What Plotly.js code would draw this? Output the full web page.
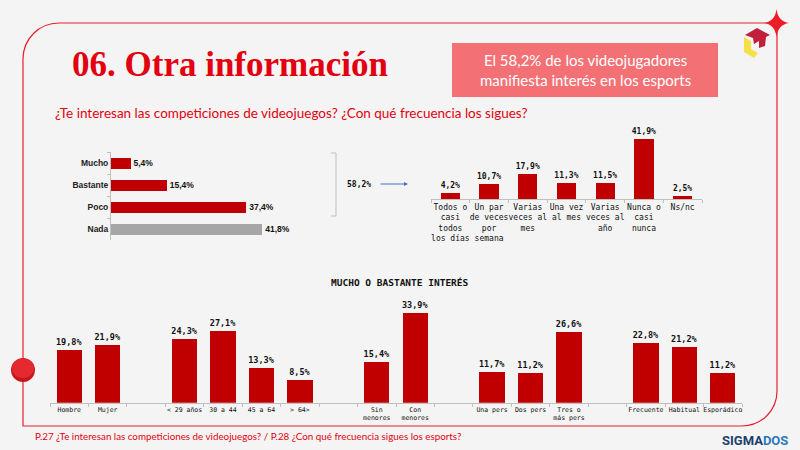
<!DOCTYPE html>
<html>
<head>
<meta charset="utf-8">
<script src="https://cdn.plot.ly/plotly-3.0.1.min.js"></script>
<style>html,body{margin:0;padding:0;background:#F4F4F4;}#chart{width:800px;height:450px;}</style>
</head>
<body>
<div id="chart"></div>
<script>
// ---- data ----
const interestCats = ['Mucho', 'Bastante', 'Poco', 'Nada'];
const interestVals = [5.4, 15.4, 37.4, 41.8];
const interestTotal = '58,2%';

const freqCats = ['Todos o<br>casi<br>todos<br>los días', 'Un par<br>de veces<br>por<br>semana', 'Varias<br>veces al<br>mes', 'Una vez<br>al mes', 'Varias<br>veces al<br>año', 'Nunca o<br>casi<br>nunca', 'Ns/nc'];
const freqVals = [4.2, 10.7, 17.9, 11.3, 11.5, 41.9, 2.5];

const segCats = ['Hombre', 'Mujer', ' ', '< 29 años', '30 a 44', '45 a 64', '> 64>', '  ', 'Sin<br>menores', 'Con<br>menores', '   ', 'Una pers', 'Dos pers', 'Tres o<br>más pers', '    ', 'Frecuente', 'Habitual', 'Esporádico'];
const segVals = [19.8, 21.9, null, 24.3, 27.1, 13.3, 8.5, null, 15.4, 33.9, null, 11.7, 11.2, 26.6, null, 22.8, 21.2, 11.2];

// ---- helpers ----
const W = 800, H = 450;
const X = p => p / W;
const Y = p => 1 - p / H;
const RED = '#C00000', GREY = '#A6A6A6', AX = '#BFBFBF', BRAND = '#E3000F';
const MONO = 'DejaVu Sans Mono';

const traces = [
  {
    type: 'bar', orientation: 'h', x: interestVals, y: interestCats,
    xaxis: 'x', yaxis: 'y', width: 0.5,
    marker: {color: interestCats.map(c => c === 'Nada' ? GREY : RED)},
    texttemplate: '%{x:.1f}%', textposition: 'outside', cliponaxis: false, constraintext: 'none',
    outsidetextfont: {family: 'Liberation Sans', size: 8.5, color: '#111', weight: 'bold'},
    hoverinfo: 'skip'
  },
  {
    type: 'bar', x: freqCats, y: freqVals,
    xaxis: 'x2', yaxis: 'y2', width: 0.5,
    marker: {color: RED},
    texttemplate: '%{y:.1f}%', textposition: 'outside', cliponaxis: false, constraintext: 'none',
    outsidetextfont: {family: MONO, size: 8, color: '#111', weight: 'bold'},
    hoverinfo: 'skip'
  },
  {
    type: 'bar', x: segCats, y: segVals,
    xaxis: 'x3', yaxis: 'y3', width: 0.66,
    marker: {color: RED},
    texttemplate: '%{y:.1f}%', textposition: 'outside', cliponaxis: false, constraintext: 'none',
    outsidetextfont: {family: MONO, size: 8.5, color: '#111', weight: 'bold'},
    hoverinfo: 'skip'
  }
];

const catAxisBase = {showgrid: false, zeroline: false, showline: true, linecolor: AX, linewidth: 1,
  ticks: 'outside', tickson: 'boundaries', ticklen: 3, tickcolor: AX, fixedrange: true};

const layout = {
  width: W, height: H,
  margin: {l: 0, r: 0, t: 0, b: 0},
  paper_bgcolor: '#F4F4F4', plot_bgcolor: 'rgba(0,0,0,0)',
  separators: ',.',
  showlegend: false,
  bargap: 0,
  xaxis: {domain: [X(111), X(328)], range: [0, 60], visible: false, fixedrange: true},
  yaxis: Object.assign({}, catAxisBase, {domain: [Y(240), Y(152)], type: 'category', autorange: 'reversed',
    tickfont: {family: 'Liberation Sans', size: 8.5, color: '#222', weight: 'bold'}, anchor: 'x'}),
  xaxis2: Object.assign({}, catAxisBase, {domain: [X(431), X(702)], type: 'category', anchor: 'y2',
    tickfont: {family: MONO, size: 8, color: '#111'}, tickangle: 0}),
  yaxis2: {domain: [Y(199.3), Y(127.8)], range: [0, 50], visible: false, anchor: 'x2', fixedrange: true},
  xaxis3: Object.assign({}, catAxisBase, {domain: [X(50), X(742)], type: 'category', anchor: 'y3',
    tickfont: {family: MONO, size: 6.5, color: '#111'}, tickangle: 0}),
  yaxis3: {domain: [Y(402.7), Y(297.1)], range: [0, 40], visible: false, anchor: 'x3', fixedrange: true},
  shapes: [
    // frame
    {type: 'path', xref: 'paper', yref: 'paper',
     path: `M ${X(59)} ${Y(23)} L ${X(777)} ${Y(23)} L ${X(777)} ${Y(391)} C ${X(777)} ${Y(411)} ${X(761)} ${Y(426)} ${X(742)} ${Y(426)} L ${X(23)} ${Y(426)} L ${X(23)} ${Y(59)} C ${X(23)} ${Y(39)} ${X(39)} ${Y(23)} ${X(59)} ${Y(23)} `,
     line: {color: '#E8202A', width: 1.2}, fillcolor: 'rgba(0,0,0,0)', layer: 'below'},
    // sparkle
    {type: 'path', xref: 'paper', yref: 'paper',
     path: `M ${X(776.5)} ${Y(9)} Q ${X(778)} ${Y(21.5)} ${X(789)} ${Y(23)} Q ${X(778)} ${Y(24.5)} ${X(776.5)} ${Y(37)} Q ${X(775)} ${Y(24.5)} ${X(764)} ${Y(23)} Q ${X(775)} ${Y(21.5)} ${X(776.5)} ${Y(9)} Z`,
     line: {width: 0}, fillcolor: '#EE1C25'},
    // red circle
    {type: 'circle', xref: 'paper', yref: 'paper', x0: X(11), x1: X(35), y0: Y(382), y1: Y(358),
     line: {width: 0}, fillcolor: '#C8161D'},
    {type: 'circle', xref: 'paper', yref: 'paper', x0: X(12), x1: X(34), y0: Y(378), y1: Y(358.5),
     line: {width: 0}, fillcolor: '#E52A2F'},
    // logo yellow
    {type: 'path', xref: 'paper', yref: 'paper',
     path: `M ${X(744)} ${Y(37)} L ${X(751)} ${Y(41)} L ${X(751)} ${Y(49)} L ${X(758)} ${Y(53)} L ${X(754)} ${Y(58)} L ${X(744)} ${Y(52)} Z`,
     line: {width: 0}, fillcolor: '#F6E04A'},
    // logo red arrow
    {type: 'path', xref: 'paper', yref: 'paper',
     path: `M ${X(745)} ${Y(35)} L ${X(757)} ${Y(28)} L ${X(770)} ${Y(35)} L ${X(766)} ${Y(37)} L ${X(765)} ${Y(46)} L ${X(759)} ${Y(48)} L ${X(759)} ${Y(41)} L ${X(754)} ${Y(44)} L ${X(753)} ${Y(38)} Z`,
     line: {width: 0}, fillcolor: '#C2203A'},
    // header box
    {type: 'rect', xref: 'paper', yref: 'paper', x0: X(452), x1: X(718), y0: Y(97), y1: Y(43),
     line: {width: 0}, fillcolor: '#F37174'},
    // bracket
    {type: 'path', xref: 'paper', yref: 'paper',
     path: `M ${X(331)} ${Y(153)} L ${X(336)} ${Y(153)} L ${X(336)} ${Y(216)} L ${X(331)} ${Y(216)}`,
     line: {color: AX, width: 1}, fillcolor: 'rgba(0,0,0,0)'}
  ],
  annotations: [
    {xref: 'paper', yref: 'paper', x: X(70), y: Y(64), xanchor: 'left', yanchor: 'middle', showarrow: false,
     text: '06. Otra información', font: {family: 'Liberation Serif', size: 35, color: BRAND, weight: 'bold'}},
    {xref: 'paper', yref: 'paper', x: X(585), y: Y(70), xanchor: 'center', yanchor: 'middle', showarrow: false,
     text: 'El 58,2% de los videojugadores<br>manifiesta interés en los esports', align: 'center',
     font: {family: 'Lato', size: 15, color: '#FFFFFF'}},
    {xref: 'paper', yref: 'paper', x: X(53), y: Y(113), xanchor: 'left', yanchor: 'middle', showarrow: false,
     text: '¿Te interesan las competiciones de videojuegos? ¿Con qué frecuencia los sigues?',
     font: {family: 'Lato', size: 13.5, color: BRAND}},
    {xref: 'paper', yref: 'paper', x: X(345), y: Y(184), xanchor: 'left', yanchor: 'middle', showarrow: false,
     text: interestTotal, font: {family: MONO, size: 8, color: '#111', weight: 'bold'}},
    {xref: 'paper', yref: 'paper', x: X(408), y: Y(184), ax: -29, ay: 0, text: '', showarrow: true,
     arrowhead: 2, arrowsize: 0.8, arrowwidth: 1, arrowcolor: '#4472C4'},
    {xref: 'paper', yref: 'paper', x: X(400), y: Y(282), xanchor: 'center', yanchor: 'middle', showarrow: false,
     text: 'MUCHO O BASTANTE INTERÉS', font: {family: MONO, size: 9.5, color: '#111', weight: 'bold'}},
    {xref: 'paper', yref: 'paper', x: X(33), y: Y(436), xanchor: 'left', yanchor: 'middle', showarrow: false,
     text: 'P.27 ¿Te interesan las competiciones de videojuegos? / P.28 ¿Con qué frecuencia sigues los esports?',
     font: {family: 'Lato', size: 9.8, color: BRAND}},
    {xref: 'paper', yref: 'paper', x: X(790), y: Y(440), xanchor: 'right', yanchor: 'middle', showarrow: false,
     text: '<span style="color:#1D3F6E">SIGMA</span><span style="color:#2A7AB8">DOS</span>',
     font: {family: 'Roboto', size: 13, color: '#1D3F6E', weight: 'bold'}}
  ]
};

Plotly.newPlot('chart', traces, layout, {staticPlot: true, displayModeBar: false});
</script>
</body>
</html>
